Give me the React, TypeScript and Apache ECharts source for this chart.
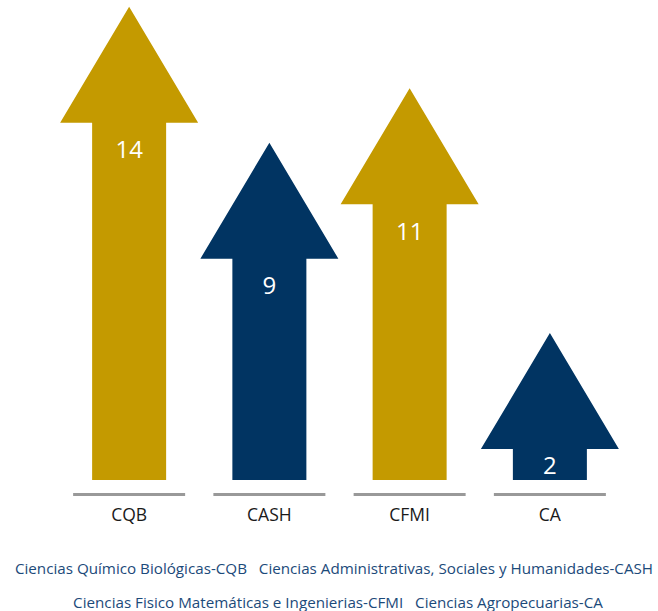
import React, { useEffect, useRef } from "react";
import * as echarts from "echarts";

const categories = ["CQB", "CASH", "CFMI", "CA"];
const values = [14, 9, 11, 2];
const colors = ["#C49A00", "#013462", "#C49A00", "#013462"];
const legendLine1 = ["Ciencias Químico Biológicas-CQB", "Ciencias Administrativas, Sociales y Humanidades-CASH"];
const legendLine2 = ["Ciencias Fisico Matemáticas e Ingenierias-CFMI", "Ciencias Agropecuarias-CA"];

const Y_MIN = -3.4;
const Y_MAX = 14;
const FONT = "'Open Sans', 'Noto Sans', sans-serif";

export default function App() {
  const ref = useRef<HTMLDivElement>(null);
  useEffect(() => {
    if (!ref.current) return;
    const chart = echarts.init(ref.current, null, { renderer: "svg" });
    const option = {
      animation: false,
      backgroundColor: "#ffffff",
      grid: { left: 59, right: 38, top: 6.7, bottom: 131, containLabel: false },
      xAxis: {
        type: "category",
        data: categories,
        axisLine: { show: false },
        axisTick: { show: false },
        splitLine: { show: false },
        axisLabel: { margin: 25, fontSize: 17.5, color: "#1A1A1A", fontFamily: FONT },
      },
      yAxis: { type: "value", min: Y_MIN, max: Y_MAX, show: false, splitLine: { show: false } },
      graphic: [
        {
          type: "text",
          x: 334,
          y: 568,
          style: {
            text: legendLine1.join("   "),
            fill: "#1C4A7A",
            font: `15.2px ${FONT}`,
            align: "center",
            verticalAlign: "middle",
          },
        },
        {
          type: "text",
          x: 338,
          y: 602,
          style: {
            text: legendLine2.join("   "),
            fill: "#1C4A7A",
            font: `15.2px ${FONT}`,
            align: "center",
            verticalAlign: "middle",
          },
        },
      ],
      series: [
        {
          type: "custom",
          data: values.map((v, i) => [i, v]),
          encode: { x: 0, y: 1 },
          renderItem: (params: any, api: any) => {
            const idx = api.value(0);
            const v = api.value(1);
            const tip = api.coord([idx, v]);
            const bot = api.coord([idx, Y_MIN]);
            const cx = tip[0];
            const yTip = tip[1];
            const yBot = bot[1];
            const hw = 69, hh = 116, sw = 37;
            const yBase = yTip + hh;
            const labelY = Math.min(yBase + 26, (yBase + yBot) / 2);
            const color = colors[params.dataIndex];
            return {
              type: "group",
              children: [
                {
                  type: "polygon",
                  shape: {
                    points: [
                      [cx, yTip],
                      [cx + hw, yBase],
                      [cx + sw, yBase],
                      [cx + sw, yBot],
                      [cx - sw, yBot],
                      [cx - sw, yBase],
                      [cx - hw, yBase],
                    ],
                  },
                  style: { fill: color },
                },
                {
                  type: "text",
                  x: cx,
                  y: labelY,
                  style: {
                    text: String(v),
                    fill: "#ffffff",
                    font: `24px ${FONT}`,
                    align: "center",
                    verticalAlign: "middle",
                  },
                },
                {
                  type: "line",
                  shape: { x1: cx - 56, y1: yBot + 14.5, x2: cx + 56, y2: yBot + 14.5 },
                  style: { stroke: "#999999", lineWidth: 3 },
                },
              ],
            };
          },
        },
      ],
    };
    chart.setOption(option as any);
    return () => chart.dispose();
  }, []);
  return (
    <div
      ref={ref}
      style={{ position: "absolute", left: 0, top: 0, width: 658, height: 611 }}
    />
  );
}
